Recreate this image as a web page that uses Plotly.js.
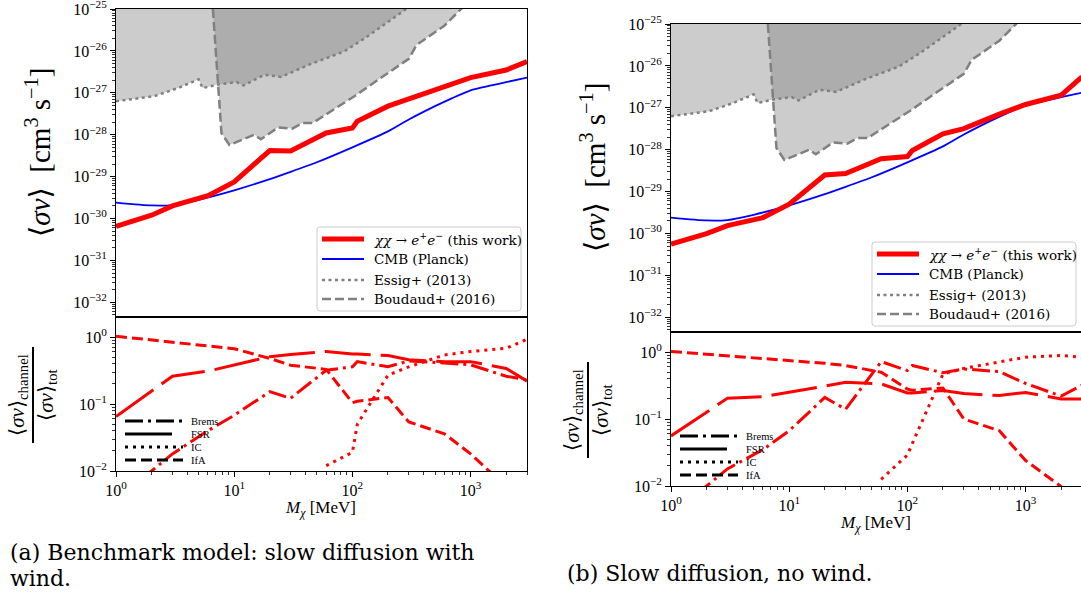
<!DOCTYPE html>
<html><head><meta charset="utf-8">
<script src="https://cdn.plot.ly/plotly-3.0.1.min.js"></script>
<style>html,body{margin:0;padding:0;background:#fff;overflow:hidden}</style>
</head><body>
<div id="chart" style="width:1081px;height:597px"></div>
<script>
// ---------------- data ----------------
const mass = [1,2,3,6,10,20,30,60,100,110,200,300,600,1000,2000,3000];           // MeV
const sigmaWind   = [6.5e-31,1.2e-30,2.0e-30,3.5e-30,7.5e-30,4.2e-29,4.1e-29,1.1e-28,1.45e-28,2.1e-28,4.8e-28,7.2e-28,1.4e-27,2.3e-27,3.5e-27,5.6e-27];
const sigmaNoWind = [5.6e-31,1.0e-30,1.55e-30,2.4e-30,5.0e-30,2.5e-29,2.7e-29,6.1e-29,6.9e-29,9.6e-29,2.4e-28,3.2e-28,7.1e-28,1.2e-27,2.0e-27,5.5e-27];

const massCMB  = [1,2,3,5,10,20,30,50,100,200,300,500,700,1000,1500,2000,3000];
const sigmaCMB = [2.4e-30,2.05e-30,2.1e-30,2.8e-30,4.7e-30,8.7e-30,1.3e-29,2.2e-29,5.0e-29,1.2e-28,2.3e-28,4.8e-28,7.5e-28,1.15e-27,1.5e-27,1.8e-27,2.3e-27];

const massEssig  = [1,2.1,3.35,5.0,5.4,7.5,10.5,12,18,25,43,85,127,200,285,400];
const sigmaEssig = [6.3e-28,8.3e-28,1.3e-27,2.1e-27,1.3e-27,1.6e-27,1.8e-27,1.5e-27,2.7e-27,2.4e-27,4.7e-27,9.7e-27,2.0e-26,5.0e-26,1.0e-25,2.2e-25];

const massBoudaud  = [6.6,7.8,9.1,14.8,16.8,23.6,31,37.8,46,64,104,190,300,350,440,600,800,860];
const sigmaBoudaud = [1e-25,1.1e-28,5.7e-29,1.0e-28,7.8e-29,1.5e-28,1.4e-28,1.9e-28,1.9e-28,3.4e-28,8.3e-28,2.7e-27,6.5e-27,1.4e-26,2.2e-26,4.0e-26,9.0e-26,1.1e-25];

// channel fractions  <sigma v>_channel / <sigma v>_tot
const bremsWind = [0.004,0.01,0.018,0.04,0.068,0.153,0.122,0.32,0.36,0.43,0.36,0.44,0.41,0.385,0.26,0.23];
const fsrWind   = [0.065,0.155,0.26,0.31,0.385,0.51,0.55,0.61,0.56,0.56,0.53,0.46,0.43,0.43,0.34,0.22];
const icWind    = [null,null,null,null,null,null,null,0.012,0.019,0.05,0.27,0.36,0.54,0.61,0.68,0.93];
const ifaWind   = [1.03,0.91,0.85,0.75,0.67,0.48,0.38,0.33,0.105,0.11,0.125,0.054,0.036,0.018,0.0055,0.003];

const bremsNoWind = [0.004,0.01,0.018,0.035,0.067,0.21,0.14,0.72,0.53,0.63,0.49,0.56,0.51,0.34,0.22,0.32];
const fsrNoWind   = [0.056,0.127,0.204,0.216,0.25,0.31,0.355,0.335,0.245,0.245,0.266,0.24,0.224,0.25,0.2,0.2];
const icNoWind    = [null,null,null,null,null,null,null,0.0126,0.029,0.043,0.47,0.57,0.71,0.84,0.89,0.84];
const ifaNoWind   = [1.02,0.93,0.87,0.8,0.75,0.68,0.63,0.5,0.28,0.27,0.29,0.1,0.067,0.024,0.0098,0.005];

const channelNames = ['Brems','FSR','IC','IfA'];
const limitNames = ['<i>χχ</i> → <i>e</i><sup>+</sup><i>e</i><sup>−</sup> (this work)','CMB (Planck)','Essig+ (2013)','Boudaud+ (2016)'];

const xTickVals = [1,10,100,1000];
const xTickText = ['10<sup>0</sup>','10<sup>1</sup>','10<sup>2</sup>','10<sup>3</sup>'];
const sigTickVals = [1e-32,1e-31,1e-30,1e-29,1e-28,1e-27,1e-26,1e-25];
const sigTickText = ['10<sup>−32</sup>','10<sup>−31</sup>','10<sup>−30</sup>','10<sup>−29</sup>','10<sup>−28</sup>','10<sup>−27</sup>','10<sup>−26</sup>','10<sup>−25</sup>'];
const fracTickVals = [0.01,0.1,1];
const fracTickText = ['10<sup>−2</sup>','10<sup>−1</sup>','10<sup>0</sup>'];
const captionA = ['(a) Benchmark model: slow diffusion with','wind.'];
const captionB = '(b) Slow diffusion, no wind.';

// ---------------- styling / layout helpers ----------------
const W = 1081, H = 597;
const FONT = 'Liberation Serif, DejaVu Serif, serif';
const WIDEFONT = 'DejaVu Serif, Liberation Serif, serif';
const fx = x => x / W, fy = y => 1 - y / H;
const FILL_TOP = 1e-23;

function minorVals(e0, e1){ const v=[]; for(let e=e0;e<=e1;e++) for(let m=2;m<=9;m++) v.push(m*Math.pow(10,e)); return v; }

const RED='#ff0000', BLUE='#0000ff', GRAY='#808080';
const dash = {brems:'18px,5px,3px,5px', fsr:'46px,10px', ic:'3px,5px', ifa:'11px,5px', essig:'3px,3.5px', boudaud:'9px,4px'};

const traces = [];
function topPanel(xa, ya, sigmaRed){
  traces.push({x:[...massEssig, massEssig[massEssig.length-1], massEssig[0]], y:[...sigmaEssig, FILL_TOP, FILL_TOP],
    xaxis:xa, yaxis:ya, mode:'lines', fill:'toself', fillcolor:'rgba(128,128,128,0.4)', line:{width:0}, hoverinfo:'skip'});
  traces.push({x:[...massBoudaud, massBoudaud[massBoudaud.length-1], massBoudaud[0]], y:[...sigmaBoudaud, FILL_TOP, FILL_TOP],
    xaxis:xa, yaxis:ya, mode:'lines', fill:'toself', fillcolor:'rgba(128,128,128,0.4)', line:{width:0}, hoverinfo:'skip'});
  traces.push({x:massEssig, y:sigmaEssig, xaxis:xa, yaxis:ya, mode:'lines', line:{color:GRAY, width:2.5, dash:dash.essig}});
  traces.push({x:massBoudaud, y:sigmaBoudaud, xaxis:xa, yaxis:ya, mode:'lines', line:{color:GRAY, width:2.5, dash:dash.boudaud}});
  traces.push({x:massCMB, y:sigmaCMB, xaxis:xa, yaxis:ya, mode:'lines', line:{color:BLUE, width:1.8, shape:'spline', smoothing:0.6}});
  traces.push({x:mass, y:sigmaRed, xaxis:xa, yaxis:ya, mode:'lines', line:{color:RED, width:5}});
}
function bottomPanel(xa, ya, br, fs, ic, ifa){
  traces.push({x:mass, y:br,  xaxis:xa, yaxis:ya, mode:'lines', line:{color:RED, width:3, dash:dash.brems}});
  traces.push({x:mass, y:fs,  xaxis:xa, yaxis:ya, mode:'lines', line:{color:RED, width:3, dash:dash.fsr}});
  traces.push({x:mass, y:ic,  xaxis:xa, yaxis:ya, mode:'lines', line:{color:RED, width:3, dash:dash.ic}});
  traces.push({x:mass, y:ifa, xaxis:xa, yaxis:ya, mode:'lines', line:{color:RED, width:3, dash:dash.ifa}});
}
topPanel('x','y', sigmaWind);
bottomPanel('x2','y2', bremsWind, fsrWind, icWind, ifaWind);
topPanel('x3','y3', sigmaNoWind);
bottomPanel('x4','y4', bremsNoWind, fsrNoWind, icNoWind, ifaNoWind);

const base = {type:'log', showline:true, linecolor:'#000', linewidth:1, showgrid:false, zeroline:false,
  tickfont:{family:FONT, size:16, color:'#000'}, fixedrange:true, ticklabeloverflow:'allow'};
const tickOn = {ticks:'outside', ticklen:5, tickwidth:1, tickcolor:'#000'};
const minor = v => ({tickmode:'array', tickvals:v, ticks:'outside', ticklen:2.6, tickwidth:0.8, tickcolor:'#000'});

const LX = [116, 527], RX = [671, 1081];
const XR_L = [0, Math.log10(3000)], XR_R = [0, (1081-671)/118.2];
const OFF = [555, 15];
const YR_TOP = [-32.35, -24.9995];

const layout = {
  width:W, height:H, margin:{l:0,r:0,t:0,b:0}, paper_bgcolor:'#fff', plot_bgcolor:'rgba(0,0,0,0)', showlegend:false,
  font:{family:FONT, color:'#000'},
  xaxis: {...base, domain:[fx(LX[0]),fx(LX[1])], range:XR_L, anchor:'y', mirror:true, showticklabels:false, ticks:''},
  yaxis: {...base, ...tickOn, domain:[fy(317),fy(9)], range:YR_TOP, anchor:'x', mirror:true,
          tickmode:'array', tickvals:sigTickVals, ticktext:sigTickText, minor:minor(minorVals(-33,-26))},
  xaxis2:{...base, ...tickOn, domain:[fx(LX[0]),fx(LX[1])], range:XR_L, anchor:'y2', mirror:true,
          tickmode:'array', tickvals:xTickVals, ticktext:xTickText, minor:minor(minorVals(0,3))},
  yaxis2:{...base, ...tickOn, domain:[fy(471),fy(317)], range:[-2,0.3], anchor:'x2', mirror:true,
          tickmode:'array', tickvals:fracTickVals, ticktext:fracTickText, minor:minor(minorVals(-3,0))},
  xaxis3:{...base, domain:[fx(RX[0]),1], range:XR_R, anchor:'y3', mirror:true, showticklabels:false, ticks:''},
  yaxis3:{...base, ...tickOn, domain:[fy(317+OFF[1]),fy(9+OFF[1])], range:YR_TOP, anchor:'x3', mirror:false,
          tickmode:'array', tickvals:sigTickVals, ticktext:sigTickText, minor:minor(minorVals(-33,-26))},
  xaxis4:{...base, ...tickOn, domain:[fx(RX[0]),1], range:XR_R, anchor:'y4', mirror:true,
          tickmode:'array', tickvals:xTickVals, ticktext:xTickText, minor:minor(minorVals(0,3))},
  yaxis4:{...base, ...tickOn, domain:[fy(471+OFF[1]),fy(317+OFF[1])], range:[-2,0.3], anchor:'x4', mirror:false,
          tickmode:'array', tickvals:fracTickVals, ticktext:fracTickText, minor:minor(minorVals(-3,0))},
  shapes:[], annotations:[]
};

function pline(x0,y0,x1,y1,color,width,d){
  layout.shapes.push({type:'line', xref:'paper', yref:'paper', x0:fx(x0), y0:fy(y0), x1:fx(x1), y1:fy(y1),
    line:{color:color, width:width, dash:d||'solid'}});
}
function ptext(x,y,text,size,opts,family){
  layout.annotations.push(Object.assign({xref:'paper', yref:'paper', x:fx(x), y:fy(y), text:text, showarrow:false,
    xanchor:'left', yanchor:'middle', font:{family:family||FONT, size:size, color:'#000'}}, opts||{}));
}
function roundRect(x0,y0,x1,y1,r){
  const X=v=>fx(v), Y=v=>fy(v);
  return `M${X(x0+r)},${Y(y0)} L${X(x1-r)},${Y(y0)} Q${X(x1)},${Y(y0)} ${X(x1)},${Y(y0+r)} L${X(x1)},${Y(y1-r)} Q${X(x1)},${Y(y1)} ${X(x1-r)},${Y(y1)} L${X(x0+r)},${Y(y1)} Q${X(x0)},${Y(y1)} ${X(x0)},${Y(y1-r)} L${X(x0)},${Y(y0+r)} Q${X(x0)},${Y(y0)} ${X(x0+r)},${Y(y0)} Z`;
}

function decorate(dx, dy){
  // top legend
  layout.shapes.push({type:'path', xref:'paper', yref:'paper', path:roundRect(317+dx,227+dy,521+dx,311+dy,3),
    line:{color:'#cccccc', width:1}, fillcolor:'rgba(255,255,255,0.8)'});
  const rows=[239,259,280,299];
  const sty=[[RED,5,'solid'],[BLUE,2,'solid'],[GRAY,2.5,dash.essig],[GRAY,2.5,dash.boudaud]];
  rows.forEach((r,i)=>{ pline(322+dx,r+dy,364+dx,r+dy,sty[i][0],sty[i][1],sty[i][2]); ptext(372+dx,r+dy,limitNames[i],13.5,null,WIDEFONT); });
  // bottom channel legend
  const crow=[421,434,447,460];
  const cd=[dash.brems,'solid',dash.ic,dash.ifa];
  const cend=[183,172,183,183];
  crow.forEach((r,i)=>{ pline(125+dx,r+dy,cend[i]+dx,r+dy,'#000',3,cd[i]); ptext(189+dx,r+dy,channelNames[i],10.5); });
  // axis titles
  ptext(38+dx,153+dy,'⟨<i>σv</i>⟩  [cm<sup>3</sup> s<sup>−1</sup>]',29,{xanchor:'center', textangle:-90});
  ptext(18+dx,395+dy,'⟨<i>σv</i>⟩<sub>channel</sub>',21,{xanchor:'center', textangle:-90});
  ptext(47+dx,395+dy,'⟨<i>σv</i>⟩<sub>tot</sub>',21,{xanchor:'center', textangle:-90});
  pline(33+dx,347+dy,33+dx,443+dy,'#000',2);
  ptext(320+dx,509+dy,'<i>M</i><sub><i>χ</i></sub> [MeV]',17,{xanchor:'center'});
}
decorate(0,0);
decorate(OFF[0],OFF[1]);

ptext(8,552,captionA[0],22,null,WIDEFONT);
ptext(8,578,captionA[1],22,null,WIDEFONT);
ptext(565,573,captionB,22,null,WIDEFONT);

Plotly.newPlot('chart', traces, layout, {staticPlot:true, displayModeBar:false});
</script>
</body></html>
